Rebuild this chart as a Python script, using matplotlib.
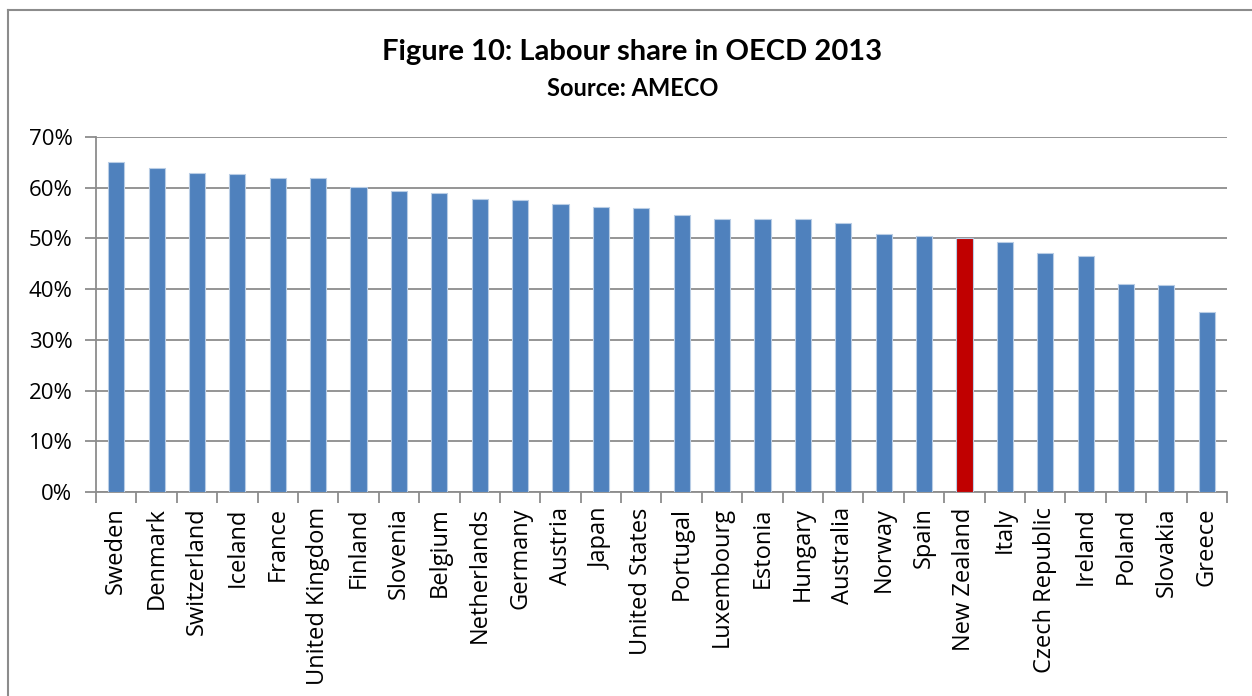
import numpy as np
import matplotlib.pyplot as plt
from matplotlib.lines import Line2D
from matplotlib.ticker import FuncFormatter

countries = ['Sweden', 'Denmark', 'Switzerland', 'Iceland', 'France', 'United Kingdom',
             'Finland', 'Slovenia', 'Belgium', 'Netherlands', 'Germany', 'Austria',
             'Japan', 'United States', 'Portugal', 'Luxembourg', 'Estonia', 'Hungary',
             'Australia', 'Norway', 'Spain', 'New Zealand', 'Italy', 'Czech Republic',
             'Ireland', 'Poland', 'Slovakia', 'Greece']
labour_share = [65.0, 63.9, 62.9, 62.7, 61.95, 61.9,
                60.05, 59.4, 58.9, 57.7, 57.5, 56.8,
                56.1, 56.0, 54.7, 53.9, 53.8, 53.8,
                53.1, 50.9, 50.4, 50.0, 49.2, 47.1,
                46.6, 41.1, 40.9, 35.45]
highlight = 'New Zealand'

plt.rcParams['font.family'] = ['Open Sans', 'DejaVu Sans']

fig = plt.figure(figsize=(12.52, 6.96), dpi=100)
ax = fig.add_axes([96 / 1252, 1 - 492 / 696, (1227 - 96) / 1252, (492 - 137) / 696])

colors = ['#C00000' if c == highlight else '#4F81BD' for c in countries]
x = np.arange(len(countries))
ax.bar(x, labour_share, width=0.4, color=colors, edgecolor='#B9CDE5', linewidth=0.8, zorder=3)

ax.set_xlim(-0.5, len(countries) - 0.5)
ax.set_ylim(0, 70)
ax.set_yticks(np.arange(0, 71, 10))
ax.yaxis.set_major_formatter(FuncFormatter(lambda v, p: f'{v:.0f}%'))
ax.grid(axis='y', color='#8C8C8C', linewidth=1.3, zorder=0)

ax.set_xticks(x)
ax.set_xticklabels(countries, rotation=90, fontsize=17)
ax.set_xticks(np.arange(-0.5, len(countries)), minor=True)
ax.tick_params(axis='x', which='major', length=0, pad=11)
ax.tick_params(axis='x', which='minor', length=8, width=1.3, color='#8C8C8C')
ax.tick_params(axis='y', length=8, width=1.3, color='#8C8C8C', labelsize=16, pad=9)

for s in ['top', 'right']:
    ax.spines[s].set_visible(False)
for s in ['left', 'bottom']:
    ax.spines[s].set_color('#8C8C8C')
    ax.spines[s].set_linewidth(1.3)

fig.text(0.505, 1 - 52 / 696, 'Figure 10: Labour share in OECD 2013', ha='center', va='center',
         fontsize=21, fontweight='bold', family=['Lato', 'DejaVu Sans'])
fig.text(0.505, 1 - 88 / 696, 'Source: AMECO', ha='center', va='center',
         fontsize=17, fontweight='bold', family=['Lato', 'DejaVu Sans'])

# outer chart frame
fig.add_artist(Line2D([8 / 1252, 8 / 1252], [0, 1 - 10 / 696], color='#8C8C8C', linewidth=1.5))
fig.add_artist(Line2D([8 / 1252, 1], [1 - 10 / 696, 1 - 10 / 696], color='#8C8C8C', linewidth=1.5))

fig.savefig('out.png', dpi=100)
